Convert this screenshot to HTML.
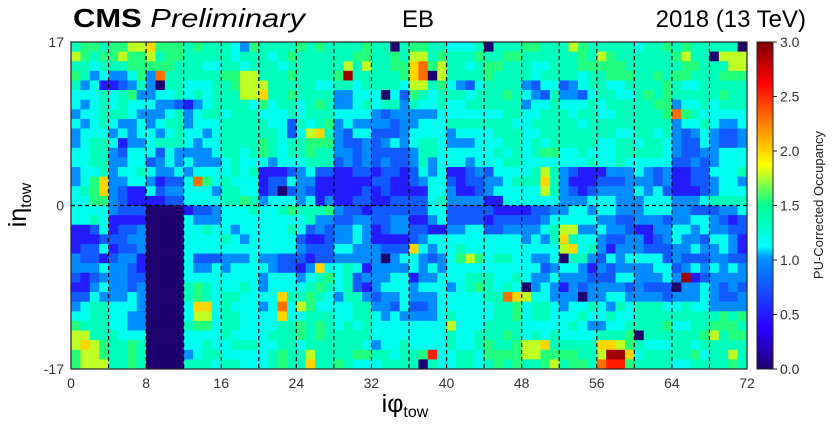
<!DOCTYPE html>
<html><head><meta charset="utf-8"><style>
html,body{margin:0;padding:0;background:#fff;width:834px;height:428px;overflow:hidden}
svg{display:block;font-family:"Liberation Sans",sans-serif}
</style></head><body>
<svg id="chart" width="834" height="428">
<text x="73" y="27" font-size="26" font-weight="bold" textLength="232" lengthAdjust="spacingAndGlyphs">CMS <tspan font-weight="normal" font-style="italic">Preliminary</tspan></text>
<text x="418" y="27" font-size="24" text-anchor="middle">EB</text>
<text x="806" y="27" font-size="24" text-anchor="end">2018 (13 TeV)</text>
<g id="cells"></g>
<g id="grid"></g>
<rect x="71" y="42" width="676" height="327" fill="none" stroke="#222" stroke-width="1.2"/>
<g id="xticks"></g>
<g id="yticks"></g>
<text x="405" y="412" font-size="25" text-anchor="middle">iφ<tspan font-size="16" dy="5">tow</tspan></text>
<text transform="translate(26,205) rotate(-90)" font-size="25" text-anchor="middle">iη<tspan font-size="16" dy="5">tow</tspan></text>
<defs><linearGradient id="jet" x1="0" y1="1" x2="0" y2="0">
<stop offset="0" stop-color="#1f006f"/><stop offset="0.125" stop-color="#2a00ff"/><stop offset="0.34" stop-color="#0090ff"/><stop offset="0.375" stop-color="#00ffff"/><stop offset="0.5" stop-color="#00ff90"/><stop offset="0.625" stop-color="#ffff00"/><stop offset="0.75" stop-color="#ff8000"/><stop offset="0.875" stop-color="#ff0000"/><stop offset="1" stop-color="#7f0000"/>
</linearGradient></defs>
<rect x="757" y="42" width="16" height="327" fill="url(#jet)" stroke="#222" stroke-width="1"/>
<g id="cbticks"></g>
<text transform="translate(823,205) rotate(-90)" font-size="13" text-anchor="middle" fill="#222">PU-Corrected Occupancy</text>
</svg>
<script>
const levelValues = {"0":0,"1":0.5,"2":0.78,"3":1.0,"4":1.18,"5":1.35,"6":1.55,"7":1.78,"8":2.0,"9":2.3,"A":2.55,"B":2.9};
const xTicks = [0,8,16,24,32,40,48,56,64,72];
const yTicks = [17,0,-17];
const cbTicks = [0,0.5,1,1.5,2,2.5,3];
const rowsTopToBottom = [
"5665 6677 8666 5655 5436 5555 6565 5556 5505 6655 4445 0555 6655 5765 5555 4556 5655 5550",
"7656 6766 7566 5555 5455 5456 5555 5566 5565 7756 5556 5566 5555 5565 7655 5555 6755 0777",
"5545 5566 6665 5544 5545 5545 5555 5757 5566 8967 5545 6655 5445 5566 6665 5555 5665 5577",
"6534 3346 3955 5555 6677 5556 5555 6B55 5556 8907 5555 6555 5455 5545 5666 5565 6655 5666",
"5341 1235 3055 4445 5677 7555 5544 5545 5554 7756 4324 5555 3244 2345 5445 5556 5445 5555",
"4445 4563 3445 4545 5577 8556 5555 3344 4042 6545 5545 5565 4325 3324 5544 5656 5555 5655",
"4345 4544 4332 1345 5554 6455 4565 3345 4553 5445 4455 5555 3445 4445 4555 5566 3445 4555",
"3445 5543 3345 3455 4555 4445 4555 4444 3233 3334 4444 4455 4455 5455 4455 5556 9654 4444",
"4345 4334 3455 3444 5555 5442 5456 3433 3323 3444 5555 5554 4555 5545 5555 5555 3445 4334",
"3444 3434 4345 4434 5555 5542 4785 3244 2223 4444 3444 4555 4455 5555 5544 5545 3234 3223",
"3455 4133 4555 4344 5555 6545 5666 3223 2343 4554 3334 4455 4545 5555 4455 4554 3224 3223",
"4455 3244 4243 3334 5545 6545 5655 3323 2222 3554 4444 4545 4566 4454 4455 5554 3223 3444",
"4455 3344 2343 4333 4544 4344 4555 2323 2322 3534 4434 4455 4444 4445 4454 4444 2232 3444",
"3445 3445 4334 3444 4545 1112 3422 1122 1221 2434 1123 2444 4575 3211 1333 4323 1122 4445",
"3468 3344 3122 4964 5444 1224 3311 1111 2211 2344 2122 3345 5585 3111 2223 3323 1122 3443",
"4568 3211 4233 4443 5544 1202 3211 1112 1211 1144 3112 3444 4475 3212 3333 4342 1112 3444",
"4466 3211 1122 4444 5565 3444 3413 1122 1122 2245 3333 1144 4444 3334 4433 3444 3334 5555",
"4444 3222 0000 1223 4445 4456 5556 3221 2222 2244 2222 2111 1223 3443 4433 3444 3322 2334",
"4454 1111 0000 4333 4444 4444 4533 2233 2233 1134 2222 1222 2234 4444 3322 3332 3344 3212",
"1124 1223 0000 4454 4344 4445 4232 3343 1233 2211 3344 2233 3345 7733 4332 1133 4434 3322",
"1112 2233 0000 4444 5434 4444 2112 3343 1111 2344 4444 4444 3435 8544 3223 3123 4332 4431",
"1224 1223 0000 4444 4444 4444 3222 4433 3222 8434 4544 4444 4444 7845 3133 3222 3343 3431",
"3221 2331 0000 4222 3334 3322 2122 3333 3034 4323 4676 4554 4334 0553 2434 4442 3222 3322",
"3334 3321 0000 4334 3444 4322 1384 4541 3333 4343 4444 4444 4423 4431 3233 3344 2343 4343",
"2123 3322 0000 4444 4444 3444 3456 4523 3344 1334 4455 5445 4334 3332 2244 3334 3B12 3333",
"1134 3323 0000 5654 4454 3444 4565 4521 3444 3444 3456 5454 0343 1323 3332 3222 0334 3232",
"2243 3343 0000 5654 5544 4485 5654 3553 2334 3334 4444 5598 7443 3303 3443 3332 3334 3223",
"3455 4443 0000 4884 5444 3494 7644 4455 3324 2234 4444 4556 4554 3445 4354 5554 4544 3333",
"4455 4433 0000 4774 5544 4484 4555 4455 4343 3334 5444 4556 4554 4454 4544 5555 5555 5656",
"6555 4433 0000 5664 5544 4455 6565 4545 4444 4444 7444 5555 4444 4543 3445 5556 4455 6665",
"7755 5444 0000 4444 5444 4555 6565 5555 4444 4444 5445 5565 4545 4444 5556 0555 5556 7566",
"7876 5565 0000 4454 4555 4455 4555 5554 3445 4444 5445 6556 7785 5555 8876 5444 5545 5555",
"6776 5565 0000 3455 4444 4565 5755 5566 5545 56A4 4554 6666 7766 6655 7BB8 4555 5564 5575",
"6777 5565 0000 5554 5544 4565 5855 6544 4555 5054 4554 5656 5567 5665 9AA6 5555 4455 5565"
];
const NS='http://www.w3.org/2000/svg';
const X0=71,X1=747,Y0=42,Y1=369;
function xScale(p){return X0+(p/72)*(X1-X0);}
function yScale(e){return Y0+((17-e)/34)*(Y1-Y0);}
function cScale(v){return Y1-(v/3)*(Y1-Y0);}
const stops=[[0,[31,0,111]],[0.125,[42,0,255]],[0.34,[0,144,255]],[0.375,[0,255,255]],[0.5,[0,255,144]],[0.625,[255,255,0]],[0.75,[255,128,0]],[0.875,[255,0,0]],[1,[127,0,0]]];
function jet(v){
  const t=Math.max(0,Math.min(1,v/3));
  for(let i=1;i<stops.length;i++){
    if(t<=stops[i][0]){
      const a=stops[i-1],b=stops[i],f=(t-a[0])/(b[0]-a[0]);
      return 'rgb('+[0,1,2].map(k=>Math.round(a[1][k]+(b[1][k]-a[1][k])*f)).join(',')+')';
    }
  }
  return 'rgb(127,0,0)';
}
function mk(tag,attrs,parent){const e=document.createElementNS(NS,tag);for(const k in attrs)e.setAttribute(k,attrs[k]);parent.appendChild(e);return e;}
const cells=document.getElementById('cells');
rowsTopToBottom.forEach((row,ri)=>{
  const s=row.replace(/ /g,'');
  const eTop=17-ri;
  for(let c=0;c<72;c++){
    const v=levelValues[s[c]||'5'];
    const r=mk('rect',{x:xScale(c),y:yScale(eTop),width:xScale(c+1)-xScale(c)+0.3,height:yScale(eTop-1)-yScale(eTop)+0.3,fill:jet(v)},cells);
    
    
  }
});
const grid=document.getElementById('grid');
for(let p=4;p<72;p+=4){
  const l=mk('line',{x1:xScale(p),x2:xScale(p),y1:Y0,y2:Y1,stroke:'#000','stroke-width':1.2,'stroke-dasharray':'4,3'},grid);
  
  
}
const hl=mk('line',{x1:X0,x2:X1,y1:yScale(0),y2:yScale(0),stroke:'#000','stroke-width':1.2,'stroke-dasharray':'4,3'},grid);


const xt=document.getElementById('xticks');
xTicks.forEach(t=>{
  const tx=mk('text',{x:xScale(t),y:388,'font-size':14,'text-anchor':'middle',fill:'#333'},xt);
  tx.textContent=t;
  
  
});
const yt=document.getElementById('yticks');
yTicks.forEach(t=>{
  const tx=mk('text',{x:64,y:yScale(t)+5,'font-size':14,'text-anchor':'end',fill:'#333'},yt);
  tx.textContent=t;
  
  
});
const cb=document.getElementById('cbticks');
cbTicks.forEach(t=>{
  const y=cScale(t);
  const tk=mk('line',{x1:773,x2:777,y1:y,y2:y,stroke:'#222'},cb);
  
  
  const tx=mk('text',{x:780,y:y+5,'font-size':14,fill:'#333'},cb);
  tx.textContent=t.toFixed(1);
  
  
});
</script>
</body></html>
